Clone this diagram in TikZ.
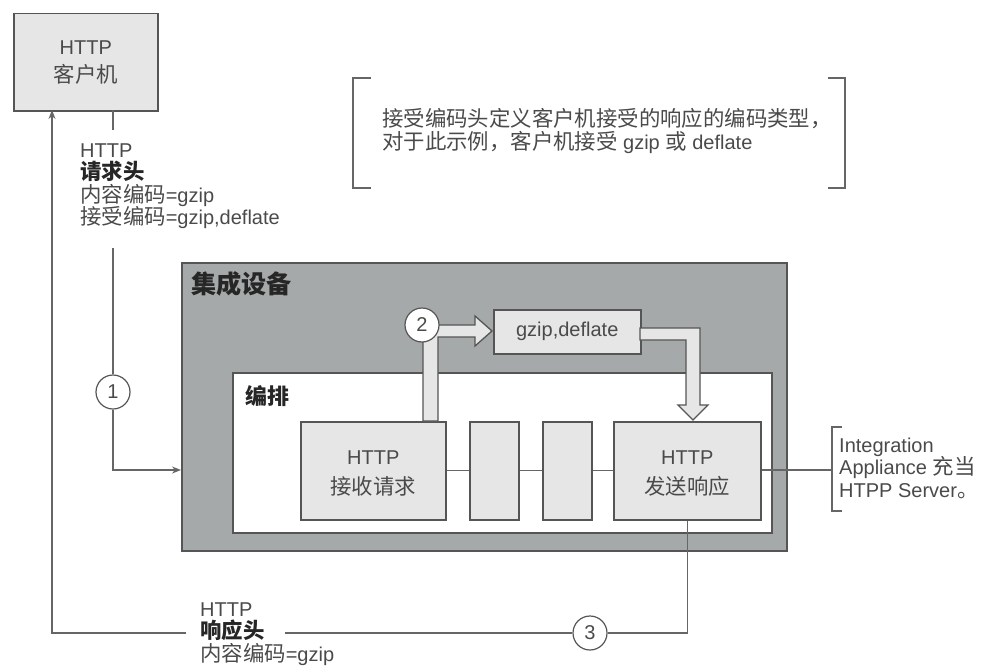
\documentclass[tikz,border=0pt]{standalone}
\usepackage{fontspec}
\setmainfont{Liberation Sans}
\newfontfamily\cjk[Scale=1.07]{Noto Sans CJK SC}
\newcommand{\zh}[1]{{\cjk #1}}
\newcommand{\zhb}[1]{{\cjk\bfseries\color{black!85}#1}}
\usetikzlibrary{arrows.meta}
\definecolor{edge}{HTML}{555555}
\definecolor{boxfill}{HTML}{E6E6E6}
\definecolor{appfill}{HTML}{A6A9A9}
\definecolor{txt}{HTML}{4A4A4A}
\definecolor{wirec}{HTML}{666666}
\begin{document}
\begin{tikzpicture}[x=1pt,y=-1pt,
  every node/.style={text=txt},
  lightbox/.style={draw=edge, line width=1.5pt, fill=boxfill, inner sep=0, anchor=north west, align=center,
    font=\fontsize{20}{28}\selectfont},
  boxtext/.style={align=center, inner sep=0, yshift=-3pt, font=\fontsize{20}{30}\selectfont},
  wire/.style={draw=wirec, line width=1.3pt},
  arr/.style={wire, -{Stealth[length=9pt,width=7pt]}},
  num/.style={circle, draw=edge, line width=1.2pt, fill=white, minimum size=34pt, inner sep=0,
    font=\fontsize{20}{20}\selectfont},
  lbl/.style={align=left, inner sep=0, anchor=west, font=\fontsize{20}{22.5}\selectfont},
  fat/.style={draw=edge, line width=1.3pt, fill=boxfill, line join=miter},
  brk/.style={draw=wirec, line width=1.5pt},
]
\useasboundingbox (0,0) rectangle (984,669);

% client
\node[lightbox, minimum width=144pt, minimum height=97pt] (client) at (13,13) {HTTP\\\zh{客户机}};

% annotation
\draw[brk] (371,78) -- (353,78) -- (353,188) -- (371,188);
\draw[brk] (828,78) -- (845,78) -- (845,188) -- (828,188);
\node[lbl, font=\fontsize{20}{23}\selectfont] (note) at (382,131)
  {\zh{接受编码头定义客户机接受的响应的编码类型，}\\\zh{对于此示例，客户机接受} gzip \zh{或} deflate};

% appliance
\node[draw=edge, line width=2pt, fill=appfill, minimum width=605pt, minimum height=288pt, anchor=north west, inner sep=0] (app) at (181,262) {};
\node[anchor=west, inner sep=0, font=\fontsize{23.5}{23.5}\selectfont] (apptitle) at (191,284) {\zhb{集成设备}};
\node[draw=edge, line width=1.5pt, fill=white, minimum width=539pt, minimum height=160pt, anchor=north west, inner sep=0] (orch) at (232,372) {};
\node[anchor=west, inner sep=0, font=\fontsize{20.5}{20.5}\selectfont] (orchtitle) at (245,396) {\zhb{编排}};

\node[lightbox, minimum width=145pt, minimum height=98pt, label={[boxtext]center:HTTP\\\zh{接收请求}}] (recv) at (300,421) {};
\node[lightbox, minimum width=49pt, minimum height=98pt] (m1) at (469,421) {};
\node[lightbox, minimum width=49pt, minimum height=98pt] (m2) at (542,421) {};
\node[lightbox, minimum width=147pt, minimum height=98pt, label={[boxtext]center:HTTP\\\zh{发送响应}}] (send) at (613,421) {};
\node[lightbox, minimum width=147pt, minimum height=44pt] (gz) at (493,309) {gzip,deflate};

\draw[wire] (recv.east) -- (m1.west);
\draw[wire] (m1.east) -- (m2.west);
\draw[wire] (m2.east) -- (send.west);

% fat arrows
\draw[fat] (423,421) -- (423,325) -- (475,325) -- (475,316) -- (492,331) -- (475,346) -- (475,337) -- (438,337) -- (438,421) -- cycle;
\draw[fat] (640,328) -- (700,328) -- (700,405) -- (708,405) -- (693,420) -- (678,405) -- (686,405) -- (686,340) -- (640,340) -- cycle;
\node[num] (c2) at (422,325) {2};

% server side note
\coordinate (bmid) at (832,470);
\draw[wire] (send.east |- bmid) -- (bmid);
\draw[brk] (842,427) -- (832,427) -- (832,511) -- (842,511);
\node[lbl] (srv) at (839,468) {Integration\\Appliance \zh{充当}\\HTPP Server\zh{。}};

% request path
\coordinate (cout) at (113,110);
\coordinate (ctop) at (113,130);
\draw[wire] (cout) -- (ctop);
\node[lbl] (req) at (80,186) {HTTP\\\zhb{请求头}\\\zh{内容编码}=gzip\\\zh{接受编码}=gzip,deflate};
\coordinate (reqend) at (113,248);
\node[num] (c1) at (113,392) {1};
\draw[wire] (reqend) -- (c1);
\coordinate (appin) at (181,470);
\draw[arr] (c1) |- (appin);

% response path
\node[num] (c3) at (590,633) {3};
\draw[wire] (send.south) |- (c3);
\coordinate (rgapR) at (285,633);
\coordinate (rgapL) at (186,633);
\coordinate (cin) at (52,110);
\draw[wire] (c3) -- (rgapR);
\draw[arr] (rgapL) -| (cin);
\node[lbl] (resp) at (200,634) {HTTP\\\zhb{响应头}\\\zh{内容编码}=gzip};
\end{tikzpicture}
\end{document}
